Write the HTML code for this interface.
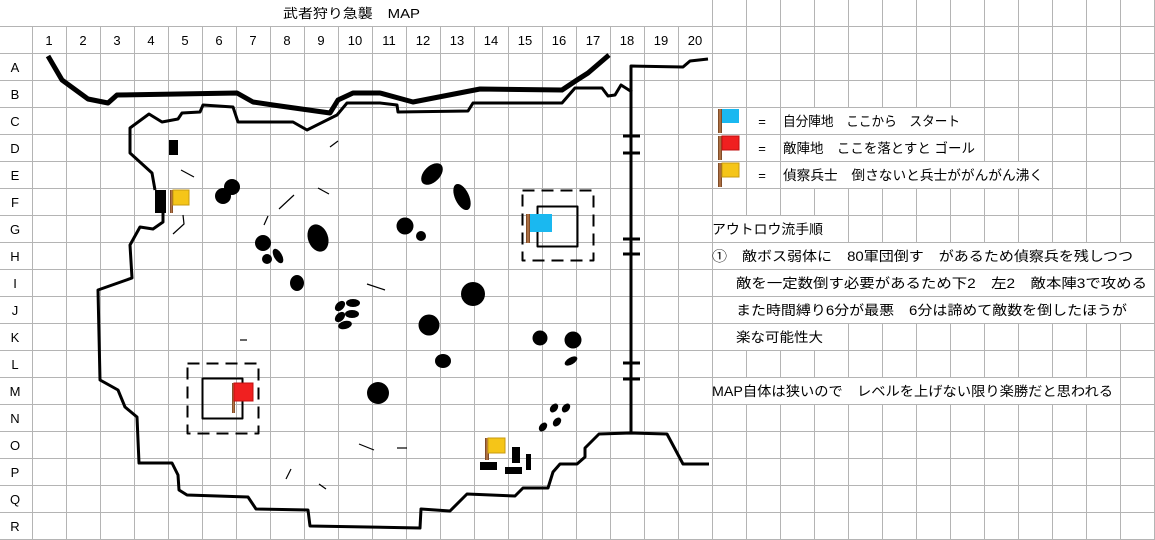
<!DOCTYPE html>
<html><head><meta charset="utf-8"><style>
html,body{margin:0;padding:0;background:#fff;}
svg{display:block;}
text{font-family:"Liberation Sans","Noto Sans CJK JP",sans-serif;fill:#000;}
</style></head><body>
<svg width="1155" height="540" viewBox="0 0 1155 540" xmlns="http://www.w3.org/2000/svg">
<defs>
<linearGradient id="pole" x1="0" x2="1"><stop offset="0" stop-color="#6b3a1a"/><stop offset="0.5" stop-color="#c08050"/><stop offset="1" stop-color="#6b3a1a"/></linearGradient>
</defs>
<g stroke="#b4b4b4" stroke-width="1">
<!-- horizontals -->
<line x1="0" y1="26.5" x2="1155" y2="26.5"/><line x1="0" y1="53.5" x2="1155" y2="53.5"/><line x1="0" y1="80.5" x2="1155" y2="80.5"/><line x1="0" y1="107.5" x2="1155" y2="107.5"/><line x1="0" y1="134.5" x2="1155" y2="134.5"/><line x1="0" y1="161.5" x2="1155" y2="161.5"/><line x1="0" y1="188.5" x2="1155" y2="188.5"/><line x1="0" y1="215.5" x2="1155" y2="215.5"/><line x1="0" y1="242.5" x2="1155" y2="242.5"/><line x1="0" y1="269.5" x2="1155" y2="269.5"/><line x1="0" y1="296.5" x2="1155" y2="296.5"/><line x1="0" y1="323.5" x2="1155" y2="323.5"/><line x1="0" y1="350.5" x2="1155" y2="350.5"/><line x1="0" y1="377.5" x2="1155" y2="377.5"/><line x1="0" y1="404.5" x2="1155" y2="404.5"/><line x1="0" y1="431.5" x2="1155" y2="431.5"/><line x1="0" y1="458.5" x2="1155" y2="458.5"/><line x1="0" y1="485.5" x2="1155" y2="485.5"/><line x1="0" y1="512.5" x2="1155" y2="512.5"/><line x1="0" y1="539.5" x2="1155" y2="539.5"/>
<!-- verticals -->
<line x1="32.5" y1="26" x2="32.5" y2="540"/><line x1="66.5" y1="26" x2="66.5" y2="540"/><line x1="100.5" y1="26" x2="100.5" y2="540"/><line x1="134.5" y1="26" x2="134.5" y2="540"/><line x1="168.5" y1="26" x2="168.5" y2="540"/><line x1="202.5" y1="26" x2="202.5" y2="540"/><line x1="236.5" y1="26" x2="236.5" y2="540"/><line x1="270.5" y1="26" x2="270.5" y2="540"/><line x1="304.5" y1="26" x2="304.5" y2="540"/><line x1="338.5" y1="26" x2="338.5" y2="540"/><line x1="372.5" y1="26" x2="372.5" y2="540"/><line x1="406.5" y1="26" x2="406.5" y2="540"/><line x1="440.5" y1="26" x2="440.5" y2="540"/><line x1="474.5" y1="26" x2="474.5" y2="540"/><line x1="508.5" y1="26" x2="508.5" y2="540"/><line x1="542.5" y1="26" x2="542.5" y2="540"/><line x1="576.5" y1="26" x2="576.5" y2="540"/><line x1="610.5" y1="26" x2="610.5" y2="540"/><line x1="644.5" y1="26" x2="644.5" y2="540"/><line x1="678.5" y1="26" x2="678.5" y2="540"/>
<line x1="712.5" y1="0" x2="712.5" y2="540"/><line x1="746.5" y1="0" x2="746.5" y2="540"/><line x1="780.5" y1="0" x2="780.5" y2="540"/><line x1="814.5" y1="0" x2="814.5" y2="540"/><line x1="848.5" y1="0" x2="848.5" y2="540"/><line x1="882.5" y1="0" x2="882.5" y2="540"/><line x1="916.5" y1="0" x2="916.5" y2="540"/><line x1="950.5" y1="0" x2="950.5" y2="540"/><line x1="984.5" y1="0" x2="984.5" y2="540"/><line x1="1018.5" y1="0" x2="1018.5" y2="540"/><line x1="1052.5" y1="0" x2="1052.5" y2="540"/><line x1="1086.5" y1="0" x2="1086.5" y2="540"/><line x1="1120.5" y1="0" x2="1120.5" y2="540"/><line x1="1154.5" y1="0" x2="1154.5" y2="540"/>
</g>
<!-- white backgrounds for overflowing text -->
<g fill="#fff">
<rect x="782" y="108" width="182" height="26"/>
<rect x="782" y="135" width="196" height="26"/>
<rect x="782" y="162" width="264" height="26"/>
<rect x="714" y="216" width="112" height="26"/>
<rect x="714" y="243" width="422" height="26"/>
<rect x="714" y="270" width="436" height="26"/>
<rect x="714" y="297" width="416" height="26"/>
<rect x="714" y="324" width="112" height="26"/>
<rect x="714" y="378" width="402" height="26"/>
</g>
<text x="283" y="18" font-size="13" textLength="137" lengthAdjust="spacingAndGlyphs">武者狩り急襲　MAP</text>
<g font-size="13" text-anchor="middle">
<text x="49" y="45">1</text><text x="83" y="45">2</text><text x="117" y="45">3</text><text x="151" y="45">4</text><text x="185" y="45">5</text><text x="219" y="45">6</text><text x="253" y="45">7</text><text x="287" y="45">8</text><text x="321" y="45">9</text><text x="355" y="45">10</text><text x="389" y="45">11</text><text x="423" y="45">12</text><text x="457" y="45">13</text><text x="491" y="45">14</text><text x="525" y="45">15</text><text x="559" y="45">16</text><text x="593" y="45">17</text><text x="627" y="45">18</text><text x="661" y="45">19</text><text x="695" y="45">20</text>
<text x="15" y="72">A</text><text x="15" y="99">B</text><text x="15" y="126">C</text><text x="15" y="153">D</text><text x="15" y="180">E</text><text x="15" y="207">F</text><text x="15" y="234">G</text><text x="15" y="261">H</text><text x="15" y="288">I</text><text x="15" y="315">J</text><text x="15" y="342">K</text><text x="15" y="369">L</text><text x="15" y="396">M</text><text x="15" y="423">N</text><text x="15" y="450">O</text><text x="15" y="477">P</text><text x="15" y="504">Q</text><text x="15" y="531">R</text>
<text x="762" y="126">=</text><text x="762" y="153">=</text><text x="762" y="180">=</text>
</g>
<g font-size="13.5">
<text x="783" y="126" textLength="177" lengthAdjust="spacingAndGlyphs">自分陣地　ここから　スタート</text>
<text x="783" y="153" textLength="192" lengthAdjust="spacingAndGlyphs">敵陣地　ここを落とすと ゴール</text>
<text x="783" y="180" textLength="260" lengthAdjust="spacingAndGlyphs">偵察兵士　倒さないと兵士ががんがん沸く</text>
<text x="712" y="234" textLength="111" lengthAdjust="spacingAndGlyphs">アウトロウ流手順</text>
<text x="712" y="261" textLength="421" lengthAdjust="spacingAndGlyphs">①　敵ボス弱体に　80軍団倒す　があるため偵察兵を残しつつ</text>
<text x="736" y="288" textLength="411" lengthAdjust="spacingAndGlyphs">敵を一定数倒す必要があるため下2　左2　敵本陣3で攻める</text>
<text x="736" y="315" textLength="391" lengthAdjust="spacingAndGlyphs">また時間縛り6分が最悪　6分は諦めて敵数を倒したほうが</text>
<text x="736" y="342" textLength="87" lengthAdjust="spacingAndGlyphs">楽な可能性大</text>
<text x="712" y="396" textLength="401" lengthAdjust="spacingAndGlyphs">MAP自体は狭いので　レベルを上げない限り楽勝だと思われる</text>
</g>
<!-- map lines -->
<g fill="none" stroke="#000" stroke-linejoin="round" stroke-linecap="butt">
<polyline stroke-width="5" points="48,56 62,80 88,99 108,103 117,95 237,93 253,102 273,105 330,113 338,100 353,93 380,93 413,102 480,89 562,90 577,80 588,73 609,55"/>
<polyline stroke-width="3" points="155,190 152,173 130,153 130,128 149,114 162,122 178,119 182,113 200,112 203,105 233,107 238,122 293,122 307,130 337,115 347,103 380,103 397,105 398,112 468,111 473,103 562,103 575,88 602,88 608,96 615,95 621,85 632,92"/>
<polyline stroke-width="3" points="163,213 163,222 153,229 140,227 130,245 132,278 98,290 100,380 118,390 125,407 137,417 139,463 172,463 178,475 179,490 187,495 248,497 256,509 308,510 310,526 420,528 421,509 450,511 467,494 515,496 523,488 548,488 553,472 560,464 577,464 585,457 585,448 599,434 630,433 667,434 683,464 709,464"/>
<polyline stroke-width="3" points="631,434 631,66 683,67 690,61 708,59"/>
<g stroke-width="3"><line x1="623" y1="136" x2="640" y2="136"/><line x1="623" y1="153" x2="640" y2="153"/><line x1="623" y1="239" x2="640" y2="239"/><line x1="623" y1="254" x2="640" y2="254"/><line x1="623" y1="363" x2="640" y2="363"/><line x1="623" y1="379" x2="640" y2="379"/></g>
<g stroke-width="1.2">
<line x1="181" y1="170" x2="194" y2="177"/><line x1="318" y1="188" x2="329" y2="194"/><line x1="279" y1="209" x2="294" y2="195"/><line x1="264" y1="225" x2="268" y2="216"/><line x1="330" y1="147" x2="338" y2="141"/><line x1="367" y1="284" x2="385" y2="290"/><polyline points="183,215 184,224 173,234"/><line x1="240" y1="340" x2="247" y2="340"/><line x1="359" y1="444" x2="374" y2="450"/><line x1="397" y1="448" x2="407" y2="448"/><line x1="286" y1="479" x2="291" y2="469"/><line x1="319" y1="484" x2="326" y2="489"/>
</g>
<rect x="522.5" y="190.5" width="71" height="70" stroke-width="2" stroke-dasharray="12,7"/>
<rect x="537.5" y="206.5" width="40" height="40" stroke-width="2"/>
<rect x="187.5" y="363.5" width="71" height="70" stroke-width="2" stroke-dasharray="12,7"/>
<rect x="202.5" y="378.5" width="40" height="40" stroke-width="2"/>
</g>
<!-- blobs -->
<g fill="#000">
<rect x="169" y="140" width="9" height="15"/>
<rect x="155" y="190" width="11" height="23"/>
<circle cx="223" cy="196" r="8"/><circle cx="232" cy="187" r="8"/>
<circle cx="263" cy="243" r="8"/><circle cx="267" cy="259" r="5"/>
<ellipse cx="278" cy="256" rx="4" ry="8" transform="rotate(-30 278 256)"/>
<ellipse cx="318" cy="238" rx="10" ry="14" transform="rotate(-20 318 238)"/>
<ellipse cx="297" cy="283" rx="7" ry="8"/>
<ellipse cx="353" cy="303" rx="7" ry="4"/><ellipse cx="340" cy="306" rx="4" ry="6" transform="rotate(45 340 306)"/><ellipse cx="352" cy="314" rx="7" ry="4"/><ellipse cx="340" cy="317" rx="4" ry="6" transform="rotate(45 340 317)"/><ellipse cx="345" cy="325" rx="7" ry="4" transform="rotate(-15 345 325)"/>
<circle cx="378" cy="393" r="11"/>
<ellipse cx="432" cy="174" rx="8" ry="13" transform="rotate(45 432 174)"/>
<ellipse cx="462" cy="197" rx="7" ry="14" transform="rotate(-25 462 197)"/>
<circle cx="405" cy="226" r="8.5"/><circle cx="421" cy="236" r="5"/>
<circle cx="473" cy="294" r="12"/>
<circle cx="429" cy="325" r="10.5"/>
<ellipse cx="443" cy="361" rx="8" ry="7"/>
<circle cx="540" cy="338" r="7.5"/><circle cx="573" cy="340" r="8.5"/>
<ellipse cx="571" cy="361" rx="7" ry="3.5" transform="rotate(-30 571 361)"/>
<ellipse cx="554" cy="408" rx="3.5" ry="5" transform="rotate(40 554 408)"/><ellipse cx="566" cy="408" rx="3.5" ry="5" transform="rotate(40 566 408)"/><ellipse cx="557" cy="422" rx="3.5" ry="5" transform="rotate(40 557 422)"/><ellipse cx="543" cy="427" rx="3.5" ry="5" transform="rotate(40 543 427)"/>
<rect x="480" y="462" width="17" height="8"/><rect x="505" y="467" width="17" height="7"/><rect x="512" y="447" width="8" height="16"/><rect x="526" y="454" width="5" height="16"/>
</g>
<!-- flags -->
<g>
<rect x="170" y="190" width="3" height="23" fill="url(#pole)"/><rect x="173" y="190" width="16" height="15" fill="#f5c518" stroke="#c89a10" stroke-width="1"/>
<rect x="526" y="214" width="4" height="29" fill="url(#pole)"/><rect x="530" y="214" width="22" height="18" fill="#1ab8f0"/>
<rect x="232" y="383" width="3" height="30" fill="url(#pole)"/><rect x="234" y="383" width="19" height="18" fill="#f02020" stroke="#c01010" stroke-width="1"/>
<rect x="485" y="438" width="4" height="22" fill="url(#pole)"/><rect x="488" y="438" width="17" height="15" fill="#f5c518" stroke="#c89a10" stroke-width="1"/>
<rect x="718" y="109" width="4" height="24" fill="url(#pole)"/><rect x="722" y="109" width="17" height="14" fill="#1ab8f0"/>
<rect x="718" y="136" width="4" height="24" fill="url(#pole)"/><rect x="722" y="136" width="17" height="14" fill="#f02020" stroke="#c01010" stroke-width="1"/>
<rect x="718" y="163" width="4" height="24" fill="url(#pole)"/><rect x="722" y="163" width="17" height="14" fill="#f5c518" stroke="#c89a10" stroke-width="1"/>
</g>
</svg>
</body></html>
